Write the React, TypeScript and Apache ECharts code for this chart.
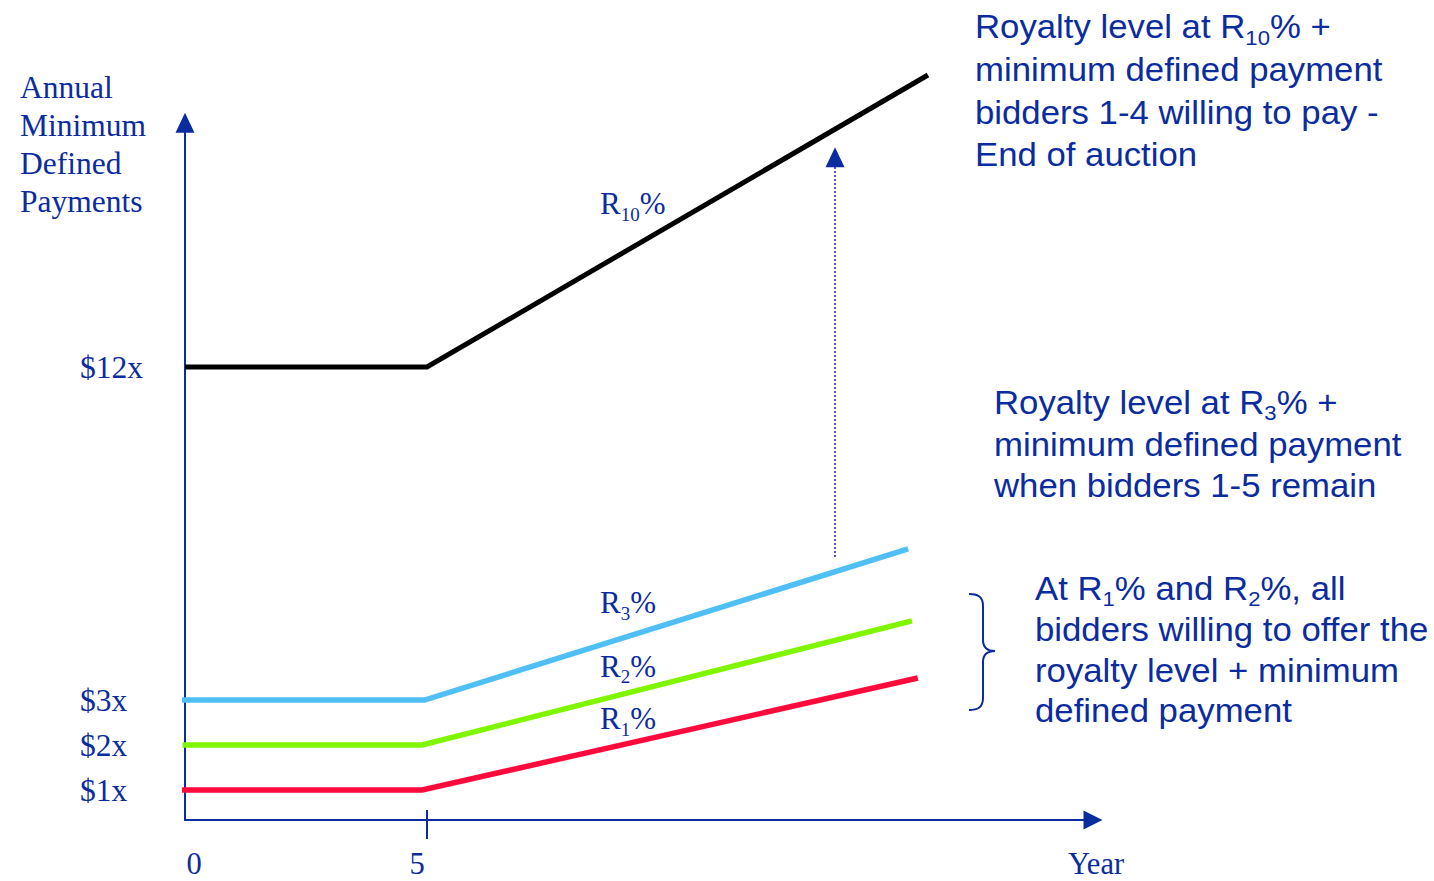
import React, { useEffect, useRef } from "react";
import * as echarts from "echarts";

// ---- Data (schematic chart: the y scale of the reference is not to scale; $12x sits lower) ----
const xTickValues = [0, 5];
const xTickLabels = ["0", "5"];
const xAxisName = "Year";

const yTickValues = [1, 2, 3, 10.4];
const yTickLabels = ["$1x", "$2x", "$3x", "$12x"];
const yAxisName = ["Annual", "Minimum", "Defined", "Payments"];

// [year, display level]
const r10Points = [
  [0, 10.4],
  [5, 10.4],
  [15.35, 16.89],
];
const r3Points = [
  [-0.07, 3],
  [4.95, 3],
  [14.94, 6.36],
];
const r2Points = [
  [-0.05, 2],
  [4.9, 2],
  [15.02, 4.76],
];
const r1Points = [
  [-0.07, 1],
  [4.9, 1],
  [15.14, 3.49],
];

// dotted "end of auction" arrow: year, from level, to level
const auctionArrowYear = 13.43;
const auctionArrowFrom = 6.18;
const auctionArrowTo = 15.06;

const NAVY = "#0b2c9f";
const SERIF = "'Liberation Serif', 'Times New Roman', serif";
const SANS = "'Liberation Sans', Arial, sans-serif";

const BRACE_D =
  "M0 0 C8 0 14 2 14 12 L14 46 C14 54 18 57 26 57 C18 57 14 60 14 68 L14 104 C14 114 8 116 0 116";

let braceRegistered = false;
function ensureBrace() {
  if (braceRegistered) return;
  echarts.graphic.registerShape("brace", echarts.graphic.extendPath(BRACE_D, {}));
  braceRegistered = true;
}

function rich(family: string, main: number, sub: number, lh: number) {
  return {
    n: { fontFamily: family, fontSize: main, lineHeight: lh, fill: NAVY },
    s: {
      fontFamily: family,
      fontSize: sub,
      lineHeight: sub,
      verticalAlign: "bottom",
      fill: NAVY,
    },
  };
}

function richText(x: number, y: number, text: string, r: any, scaleX = 1) {
  return {
    type: "text",
    x,
    y,
    scaleX,
    style: {
      text,
      rich: r,
      fill: NAVY,
      align: "left",
      verticalAlign: "top",
    },
  };
}

export default function App() {
  const ref = useRef<HTMLDivElement>(null);

  useEffect(() => {
    if (!ref.current) return;
    ensureBrace();
    const chart = echarts.init(ref.current, null, { renderer: "svg" });

    const lineSeries = (name: string, data: number[][], color: string, width: number, extra: any = {}) => ({
      name,
      type: "line",
      data,
      showSymbol: false,
      symbol: "none",
      clip: false,
      silent: true,
      lineStyle: { color, width, cap: "butt", join: "miter" },
      ...extra,
    });

    const serifR = rich(SERIF, 31, 19, 40);
    const ann1 = rich(SANS, 33, 21, 42.7);
    const ann2 = rich(SANS, 33, 21, 41.7);
    const ann3 = rich(SANS, 33, 21, 40.6);
    const SX = 1.053;

    const option: any = {
      animation: false,
      backgroundColor: "#ffffff",
      grid: { left: 185, width: 908, top: 122.7, bottom: 61, containLabel: false },
      xAxis: [
        {
          type: "value",
          min: 0,
          max: 18.76,
          splitLine: { show: false },
          axisLine: {
            show: true,
            onZero: false,
            symbol: ["none", "triangle"],
            symbolSize: [19, 19],
            lineStyle: { color: NAVY, width: 2 },
          },
          axisTick: {
            show: true,
            customValues: [5],
            length: 19,
            inside: false,
            lineStyle: { color: NAVY, width: 2 },
          },
          axisLabel: {
            show: true,
            customValues: xTickValues,
            margin: 29,
            formatter: (v: number) => {
              const i = xTickValues.findIndex((t) => Math.abs(t - v) < 1e-6);
              if (i < 0) return "";
              return i === 0 ? `{a|${xTickLabels[i]}}` : `{b|${xTickLabels[i]}}`;
            },
            rich: {
              a: { fontFamily: SERIF, fontSize: 30.5, lineHeight: 30, color: NAVY, padding: [0, 0, 0, 18] },
              b: { fontFamily: SERIF, fontSize: 30.5, lineHeight: 30, color: NAVY, padding: [0, 20, 0, 0] },
            },
          },
          name: xAxisName,
          nameLocation: "end",
          nameGap: 3,
          nameTextStyle: {
            fontFamily: SERIF,
            fontSize: 30.5,
            lineHeight: 30,
            color: NAVY,
            align: "center",
            verticalAlign: "top",
            padding: [29, 0, 0, 0],
          },
        },
        {
          type: "value",
          min: 0,
          max: 18.76,
          position: "bottom",
          splitLine: { show: false },
          axisLine: { show: false, onZero: false },
          axisLabel: { show: false },
          axisTick: {
            show: true,
            customValues: [5],
            length: 10,
            inside: true,
            lineStyle: { color: NAVY, width: 2 },
          },
        },
      ],
      yAxis: {
        type: "value",
        min: 1 / 3,
        max: 15.83,
        splitLine: { show: false },
        axisLine: {
          show: true,
          onZero: false,
          symbol: ["none", "triangle"],
          symbolSize: [19, 20],
          lineStyle: { color: NAVY, width: 2 },
        },
        axisTick: { show: false },
        axisLabel: {
          show: true,
          customValues: yTickValues,
          align: "left",
          margin: 105,
          fontFamily: SERIF,
          fontSize: 31.5,
          color: NAVY,
          formatter: (v: number) => {
            const i = yTickValues.findIndex((t) => Math.abs(t - v) < 1e-6);
            return i < 0 ? "" : yTickLabels[i];
          },
        },
      },
      series: [
        lineSeries("R10%", r10Points, "#000000", 5),
        lineSeries("R3%", r3Points, "#50bff5", 5.5, {
          markLine: {
            silent: true,
            symbol: ["none", "triangle"],
            symbolSize: [19, 20],
            label: { show: false },
            lineStyle: { color: NAVY, width: 1.5, type: [2, 2] },
            emphasis: { disabled: true },
            data: [
              [
                { coord: [auctionArrowYear, auctionArrowFrom] },
                { coord: [auctionArrowYear, auctionArrowTo] },
              ],
            ],
          },
        }),
        lineSeries("R2%", r2Points, "#80f500", 5.5),
        lineSeries("R1%", r1Points, "#ff0a3c", 5.5),
      ],
      graphic: [
        {
          type: "text",
          x: 20,
          y: 68.2,
          style: {
            text: yAxisName.join("\n"),
            fontFamily: SERIF,
            fontSize: 31.5,
            lineHeight: 38,
            fill: NAVY,
            align: "left",
            verticalAlign: "top",
          },
        },
        richText(600, 183.5, "{n|R}{s|10}{n|%}", serifR),
        richText(600, 582.8, "{n|R}{s|3}{n|%}", serifR),
        richText(600, 646.2, "{n|R}{s|2}{n|%}", serifR),
        richText(600, 698.5, "{n|R}{s|1}{n|%}", serifR),
        richText(
          975,
          5.1,
          "{n|Royalty level at R}{s|10}{n|% +}\n{n|minimum defined payment}\n{n|bidders 1-4 willing to pay -}\n{n|End of auction}",
          ann1,
          SX
        ),
        richText(
          994,
          381.3,
          "{n|Royalty level at R}{s|3}{n|% +}\n{n|minimum defined payment}\n{n|when bidders 1-5 remain}",
          ann2,
          SX
        ),
        richText(
          1035,
          568.5,
          "{n|At R}{s|1}{n|% and R}{s|2}{n|%, all}\n{n|bidders willing to offer the}\n{n|royalty level + minimum}\n{n|defined payment}",
          ann3,
          SX
        ),
        {
          type: "brace",
          x: 969,
          y: 594,
          style: { stroke: NAVY, fill: "none", lineWidth: 2 },
          silent: true,
        },
      ],
    };

    chart.setOption(option);
    return () => {
      chart.dispose();
    };
  }, []);

  return (
    <div
      ref={ref}
      style={{ position: "fixed", left: 0, top: 0, width: 1434, height: 881, background: "#fff" }}
    />
  );
}
